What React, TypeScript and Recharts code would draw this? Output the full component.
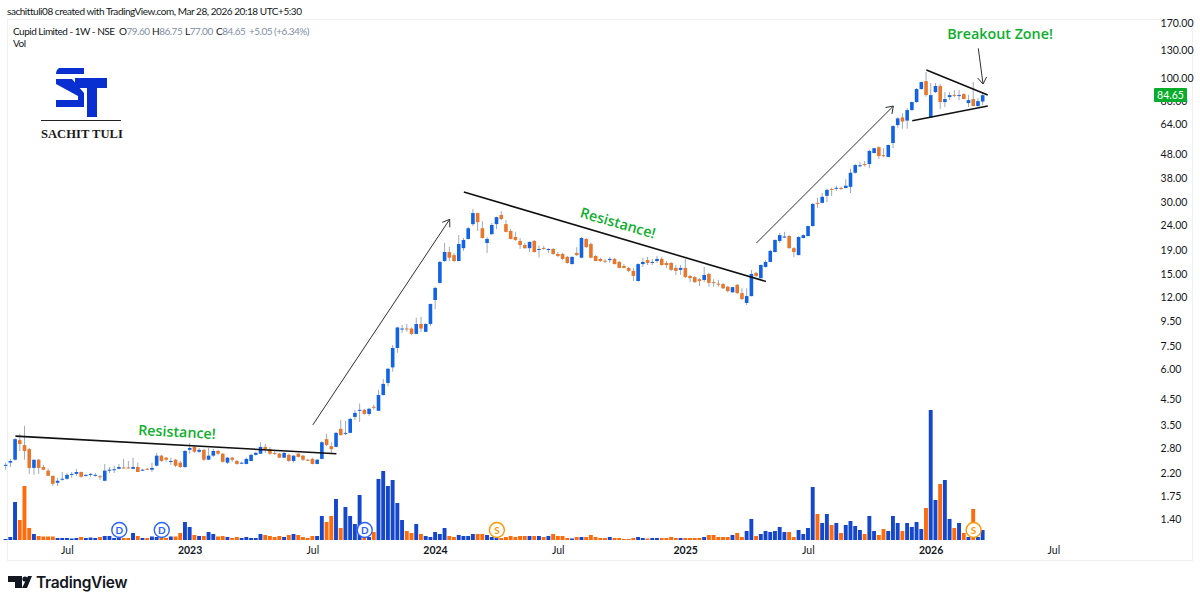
import { Bar, ComposedChart, ReferenceDot, ReferenceLine, XAxis, YAxis } from "recharts"

const opens = [
  2.38, 2.43, 2.5, 3.02, 2.88, 2.77, 2.31, 2.5, 2.33, 2.25,
  2.14, 2.0, 2.06, 2.08, 2.16, 2.18, 2.22, 2.14, 2.16, 2.14,
  2.13, 2.04, 2.26, 2.26, 2.29, 2.32, 2.32, 2.29, 2.33, 2.26,
  2.29, 2.27, 2.36, 2.6, 2.55, 2.46, 2.5, 2.43, 2.33, 2.75,
  2.83, 2.7, 2.75, 2.5, 2.6, 2.72, 2.65, 2.43, 2.55, 2.47,
  2.42, 2.4, 2.47, 2.62, 2.65, 2.83, 2.77, 2.67, 2.65, 2.55,
  2.62, 2.47, 2.65, 2.6, 2.5, 2.52, 2.4, 2.52, 3.05, 2.85,
  2.83, 3.37, 3.22, 3.24, 3.78, 4.03, 4.05, 3.89, 4.17, 4.01,
  4.67, 5.25, 6.1, 7.36, 8.8, 8.88, 8.88, 8.43, 9.28, 8.6,
  9.28, 11.7, 13.8, 17.05, 18.6, 18.05, 17.05, 19.3, 21.1, 24.35,
  27.1, 23.4, 20.3, 22.1, 24.35, 26.6, 24.35, 22.8, 21.5, 20.7,
  19.9, 19.3, 20.7, 19.0, 19.35, 19.1, 19.15, 18.25, 18.25, 17.75,
  16.55, 18.43, 17.6, 21.1, 20.1, 17.9, 17.4, 17.1, 17.2, 17.4,
  16.9, 16.25, 15.95, 15.5, 14.05, 16.55, 17.2, 16.85, 17.05, 17.4,
  16.73, 16.73, 15.95, 15.65, 15.95, 14.76, 14.6, 14.3, 14.2, 15.05,
  13.9, 13.7, 13.65, 13.3, 12.6, 13.55, 12.5, 11.37, 12.15, 15.2,
  14.45, 16.1, 16.9, 18.6, 20.7, 21.4, 21.7, 19.3, 18.05, 21.3,
  21.7, 23.9, 29.9, 29.9, 32, 34.2, 34.4, 34.5, 34.5, 34.9,
  40, 42.8, 43.5, 43.5, 48.4, 51.2, 47.4, 46.6, 53.3, 63.4,
  68.3, 66.2, 73.3, 79.2, 89.8, 97, 68.3, 87.2, 92.5, 79.2,
  83.1, 84.9, 83.9, 85.5, 78.4, 81.5, 76.2, 79.6,
]

const highs = [
  2.43, 2.52, 3.08, 3.21, 3.47, 2.8, 2.5, 2.52, 2.38, 2.29,
  2.14, 2.1, 2.22, 2.2, 2.22, 2.29, 2.23, 2.18, 2.2, 2.2,
  2.16, 2.4, 2.33, 2.36, 2.4, 2.52, 2.47, 2.55, 2.43, 2.29,
  2.31, 2.43, 2.67, 2.62, 2.57, 2.55, 2.52, 2.47, 2.75, 2.94,
  2.85, 2.8, 2.77, 2.8, 2.77, 2.75, 2.67, 2.57, 2.57, 2.5,
  2.45, 2.55, 2.65, 2.7, 2.96, 2.91, 2.83, 2.75, 2.67, 2.69,
  2.65, 2.62, 2.67, 2.62, 2.52, 2.55, 2.52, 2.99, 3.21, 2.96,
  3.27, 3.67, 3.64, 3.75, 4.05, 4.3, 4.09, 4.13, 4.25, 4.91,
  5.45, 6.08, 7.57, 9.05, 9.19, 9.28, 8.97, 9.85, 9.95, 9.37,
  11.3, 13.3, 17.05, 20.3, 19.55, 18.43, 21.9, 21.3, 23.7, 28.2,
  27.2, 25.05, 21.5, 24.6, 26.2, 27.6, 25.3, 23.2, 22.6, 21.3,
  20.3, 20.6, 20.9, 19.8, 19.75, 19.3, 19.35, 18.6, 18.43, 17.9,
  17.8, 19.5, 21.5, 21.3, 20.4, 18.05, 17.6, 17.4, 17.75, 17.6,
  17.05, 16.55, 16.1, 15.95, 16.7, 17.6, 17.75, 17.4, 17.9, 17.75,
  17.05, 16.9, 16.4, 16.4, 17.4, 14.9, 14.76, 14.45, 16.1, 15.2,
  14.3, 14.2, 13.8, 13.4, 13.3, 13.65, 13.1, 13.1, 15.65, 15.35,
  16.5, 17.2, 19, 21, 22.36, 22.6, 21.9, 19.5, 21.7, 22.1,
  24, 29.9, 31.4, 32.9, 34.3, 34.6, 35.3, 35, 37.6, 41.6,
  43.5, 44.4, 44.8, 49.8, 51, 51.7, 50.7, 52.5, 63.4, 68.5,
  71.1, 74.7, 79.6, 90.7, 96.5, 105.9, 95.2, 95.2, 94.3, 87.2,
  87.2, 88.9, 88.9, 86.4, 84.7, 96.1, 82.3, 86.75,
]

const lows = [
  2.27, 2.33, 2.48, 2.72, 2.5, 2.18, 2.16, 2.18, 2.26, 2.14,
  1.94, 1.94, 2.04, 2.06, 2.1, 2.14, 2.1, 2.12, 2.12, 2.12,
  2.06, 2.03, 2.2, 2.2, 2.28, 2.29, 2.29, 2.28, 2.22, 2.25,
  2.27, 2.22, 2.34, 2.45, 2.45, 2.38, 2.33, 2.31, 2.31, 2.65,
  2.67, 2.67, 2.47, 2.49, 2.57, 2.62, 2.43, 2.4, 2.45, 2.38,
  2.4, 2.39, 2.46, 2.6, 2.64, 2.67, 2.62, 2.62, 2.54, 2.54,
  2.45, 2.43, 2.55, 2.47, 2.47, 2.39, 2.39, 2.51, 2.85, 2.65,
  2.82, 3.16, 3.17, 3.23, 3.67, 3.6, 3.86, 3.82, 4.05, 4.0,
  4.65, 5.08, 5.85, 7.02, 8.51, 8.6, 8.34, 8.4, 8.6, 8.58,
  9.1, 10.7, 13.7, 16.9, 17.05, 16.9, 17.0, 18.8, 21.0, 23.9,
  22.8, 21.2, 18.43, 21.9, 23.2, 25.3, 22.5, 21.0, 20.7, 19.15,
  19.2, 18.6, 18.5, 17.6, 19.0, 18.4, 18.1, 17.7, 17.2, 16.6,
  16.5, 17.9, 17.5, 19.3, 17.5, 17.0, 16.9, 16.73, 16.73, 16.5,
  15.9, 15.9, 15.3, 14.05, 14.0, 16.1, 16.4, 16.4, 16.73, 16.3,
  15.95, 15.5, 14.9, 14.9, 14.45, 13.9, 13.8, 13.4, 13.9, 13.3,
  13.3, 13.3, 13.0, 12.6, 12.55, 12.4, 11.7, 11.15, 12.1, 14.6,
  14.4, 16.0, 16.85, 18.5, 20.3, 21.3, 19.2, 17.7, 18.0, 21.2,
  21.6, 23.8, 28.5, 29.8, 30.15, 32, 33.6, 33.9, 34.4, 32.9,
  39.6, 42.2, 42.5, 41.8, 48.2, 45.7, 46.5, 46.4, 50.7, 61.8,
  61.2, 61.2, 72.8, 78.6, 89.3, 83.5, 68, 86.4, 74, 75.5,
  80.7, 83.1, 80.7, 81.5, 75.5, 76, 75.7, 77,
]

const closes = [
  2.38, 2.47, 3.05, 2.91, 2.72, 2.31, 2.5, 2.31, 2.27, 2.14,
  1.98, 2.04, 2.08, 2.16, 2.18, 2.22, 2.12, 2.16, 2.18, 2.16,
  2.12, 2.25, 2.27, 2.28, 2.33, 2.31, 2.31, 2.33, 2.22, 2.27,
  2.28, 2.31, 2.6, 2.47, 2.5, 2.47, 2.36, 2.33, 2.72, 2.8,
  2.7, 2.75, 2.5, 2.6, 2.72, 2.65, 2.45, 2.55, 2.5, 2.4,
  2.43, 2.52, 2.62, 2.67, 2.83, 2.77, 2.65, 2.66, 2.55, 2.67,
  2.47, 2.6, 2.57, 2.5, 2.49, 2.4, 2.5, 2.96, 2.88, 2.77,
  3.24, 3.17, 3.24, 3.71, 3.93, 4.05, 3.89, 4.09, 4.15, 4.67,
  5.2, 6.02, 7.36, 8.97, 8.88, 8.8, 8.43, 9.28, 8.88, 9.28,
  11.26, 13.15, 16.9, 18.6, 17.6, 17.05, 20.1, 20.9, 23.4, 27.1,
  24.8, 21.3, 21.1, 24.15, 26.05, 25.6, 22.6, 21.1, 20.9, 19.9,
  19.3, 20.5, 18.6, 19.15, 19.3, 19.15, 18.25, 17.9, 17.4, 16.73,
  17.75, 18.05, 21.3, 19.5, 17.6, 17.05, 17.05, 17.05, 17.4, 16.55,
  15.95, 15.95, 15.5, 14.76, 16.55, 16.9, 16.73, 16.9, 17.4, 16.4,
  16.4, 15.65, 15.5, 15.95, 14.6, 14.45, 13.9, 14.05, 14.9, 13.8,
  13.8, 13.65, 13.1, 12.75, 13.25, 12.5, 11.8, 12.15, 15.05, 14.76,
  16.4, 16.9, 18.8, 20.9, 21.9, 21.6, 19.3, 18.6, 21.5, 21.9,
  23.9, 29.6, 29.7, 31.7, 33.9, 34.0, 34.6, 34.4, 35.3, 40,
  43.1, 43, 43.3, 49.4, 50.7, 47, 47.2, 52.3, 62.8, 67.6,
  65.6, 73.3, 79.2, 89.8, 96.1, 84.7, 84.7, 92.5, 79.2, 81.5,
  84.7, 84.5, 84.7, 81.5, 80.7, 76.2, 79.9, 84.65,
]

const volumes = [
  1, 3, 38, 20, 54, 12, 6, 4, 3.5, 3.5,
  3.5, 2, 2, 2, 1.5, 2, 3, 2, 2.5, 2,
  3, 4, 4, 2, 2, 2, 2, 7, 4, 2,
  2, 3.5, 3, 2, 2, 3.5, 3.5, 7, 18, 13,
  5, 4, 4, 8, 6, 3.5, 4, 3, 2, 3,
  2, 3, 2, 2, 6, 5, 4, 3, 4, 3,
  5, 6, 5, 3, 2, 4, 4, 24, 18, 24,
  41, 12, 33, 24, 16, 45, 3, 3, 8, 61,
  69, 54, 60, 37, 20, 9, 7, 16, 6, 4,
  3, 8, 6, 12, 4, 3, 5, 4, 4, 6,
  6, 6, 5, 3, 2, 2, 3, 4, 3, 4,
  4, 4, 4, 4, 3, 4, 6, 4, 4, 2,
  1.5, 3, 3, 3, 5, 3, 2, 2, 3, 2,
  2, 1, 1, 2, 3, 2, 1.5, 2, 2, 2,
  2, 3, 2, 2, 2, 2, 2, 2, 3, 5,
  5, 3, 3, 3, 5, 7, 3, 9, 21, 4,
  6, 9, 8, 9, 13, 8, 8, 3, 10, 6,
  12, 53, 26, 17, 26, 15, 17, 7, 15, 19,
  14, 10, 6, 24, 9, 5, 11, 9, 24, 17,
  9, 17, 13, 18, 11, 32, 130, 40, 56, 60,
  21, 12, 17, 7, 3, 31, 3, 10,
]

const priceTicks = [170, 130, 100, 80, 64, 48, 38, 30, 24, 19, 15, 12, 9.5, 7.5, 6, 4.5, 3.5, 2.8, 2.2, 1.75, 1.4]

// weekly bars plus the empty weeks to the right of the last candle
const totalWeeks = 243
const firstWeek = Date.UTC(2022, 3, 4)
const weeks = Array.from({ length: totalWeeks }, (_, i) =>
  new Date(firstWeek + i * 7 * 86400000).toISOString().slice(0, 10)
)

const timeTicks = ["2022-07-04", "2023-01-02", "2023-07-03", "2024-01-01", "2024-07-01", "2025-01-06", "2025-07-07", "2026-01-05", "2026-07-06"]
const timeLabels = ["Jul", "2023", "Jul", "2024", "Jul", "2025", "Jul", "2026", "Jul"]

const trendLines = [
  { from: 2, fromPrice: 3.14, to: 70, toPrice: 2.65 },
  { from: 97, fromPrice: 33.2, to: 161, toPrice: 14.0 },
  { from: 195, fromPrice: 108, to: 208, toPrice: 84.7 },
  { from: 192, fromPrice: 66.1, to: 208, toPrice: 76.2 },
]

const arrows = [
  { from: 65, fromPrice: 3.5, to: 94, toPrice: 25.5 },
  { from: 159, fromPrice: 20.3, to: 188, toPrice: 76.2 },
  { from: 206, fromPrice: 133, to: 207, toPrice: 94.3 },
]

const events = [
  { week: 24, letter: "D" },
  { week: 33, letter: "D" },
  { week: 76, letter: "D" },
  { week: 104, letter: "S" },
  { week: 205, letter: "S" },
]

const rows = weeks.map((week, i) => ({
  week,
  open: opens[i],
  high: highs[i],
  low: lows[i],
  close: closes[i],
  volume: volumes[i],
}))

const BLUE = "#1263e4"
const ORANGE = "#e8772c"
const WICK = "#9eaabd"
const GREEN = "#0cb02c"
const UI_FONT = "Lato, sans-serif"

function Candle(props: any) {
  const { x, y, width, height, payload } = props
  if (payload.open == null) return null
  const span = Math.log(payload.high) - Math.log(payload.low)
  const toY = (v: number) => y + (height * (Math.log(payload.high) - Math.log(v))) / span
  const top = toY(Math.max(payload.open, payload.close))
  const bottom = toY(Math.min(payload.open, payload.close))
  const cx = x + width / 2
  return (
    <g>
      <line x1={cx} x2={cx} y1={y} y2={y + height} stroke={WICK} strokeWidth={1} />
      <rect
        x={cx - 1.8}
        y={top}
        width={3.6}
        height={Math.max(bottom - top, 1)}
        fill={payload.close >= payload.open ? BLUE : ORANGE}
      />
    </g>
  )
}

function VolumeBar(props: any) {
  const { x, y, width, height, payload } = props
  if (payload.volume == null) return null
  return (
    <rect
      x={x}
      y={y}
      width={width}
      height={height}
      fill={payload.close >= payload.open ? "#1447cc" : "#ff6a0a"}
    />
  )
}

function ArrowLine(props: any) {
  const { x1, y1, x2, y2 } = props
  const angle = Math.atan2(y2 - y1, x2 - x1)
  const head = 8
  const a1 = angle + Math.PI - 0.6
  const a2 = angle + Math.PI + 0.6
  return (
    <g stroke="#2b2f38" strokeWidth={1} fill="none">
      <line x1={x1} y1={y1} x2={x2} y2={y2} />
      <polyline
        points={`${x2 + head * Math.cos(a1)},${y2 + head * Math.sin(a1)} ${x2},${y2} ${x2 + head * Math.cos(a2)},${y2 + head * Math.sin(a2)}`}
      />
    </g>
  )
}

function EventBadge(props: any) {
  const { cx, cy, letter } = props
  const color = letter === "D" ? "#2962ff" : "#ff9800"
  return (
    <g>
      <circle cx={cx} cy={cy} r={7.5} fill="#fff" stroke={color} strokeWidth={1.4} />
      <text x={cx} y={cy + 3.5} textAnchor="middle" fontSize={10} fontWeight={700} fontFamily={UI_FONT} fill={color}>
        {letter}
      </text>
    </g>
  )
}

function TimeTick(props: any) {
  const { x, y, payload } = props
  const label = timeLabels[timeTicks.indexOf(payload.value)]
  const isYear = label !== "Jul"
  return (
    <text x={x} y={y + 6} textAnchor="middle" fontSize={10.5} fontWeight={isYear ? 700 : 400} fontFamily={UI_FONT} fill="#131722">
      {label}
    </text>
  )
}

function Overlay() {
  const last = closes[closes.length - 1]
  const valueColor = "#7f8ea6"
  return (
    <svg width={1200} height={605} style={{ position: "absolute", left: 0, top: 0, pointerEvents: "none" }}>
      <text x={7} y={15} fontSize={10} letterSpacing={-0.45} fontFamily={UI_FONT} fill="#131722">
        sachittuli08 created with TradingView.com, Mar 28, 2026 20:18 UTC+5:30
      </text>

      <g fontSize={10} letterSpacing={-0.5} fontFamily={UI_FONT}>
        <text x={13} y={35} fill="#131722">Cupid Limited - 1W - NSE</text>
        <text x={119} y={35} fill="#131722">O<tspan fill={valueColor}>79.60</tspan></text>
        <text x={152} y={35} fill="#131722">H<tspan fill={valueColor}>86.75</tspan></text>
        <text x={185} y={35} fill="#131722">L<tspan fill={valueColor}>77.00</tspan></text>
        <text x={216} y={35} fill="#131722">C<tspan fill={valueColor}>84.65</tspan></text>
        <text x={249} y={35} fill={valueColor}>+5.05 (+6.34%)</text>
        <text x={13} y={47} fill="#131722">Vol</text>
      </g>

      <g fill="#0a2fd0">
        <path d="M59,68 H84 V74 H56 Q56,70 59,68 Z" />
        <path d="M56,79 H72 L84,93 V107 H56 V100 H78 V96 L56,84 Z" />
        <path d="M75,78 H107 V88 H97 V117 H87 V88 H75 Z" />
      </g>
      <line x1={41} x2={121} y1={120.5} y2={120.5} stroke="#222" strokeWidth={1} />
      <text x={41} y={138} fontSize={12.6} fontWeight={700} fontFamily="'Liberation Serif', serif" fill="#1b1b1b">
        SACHIT TULI
      </text>

      <g fill={GREEN} fontFamily="'Open Sans', sans-serif" fontWeight={600} fontSize={14.3}>
        <text x={177} y={437} textAnchor="middle" transform="rotate(3 177 432)">Resistance!</text>
        <text x={618} y={228} textAnchor="middle" transform="rotate(16 618 223)">Resistance!</text>
        <text x={1000} y={39} textAnchor="middle">Breakout Zone!</text>
      </g>

      <rect x={1154} y={88} width={33} height={14} fill="#0aad2b" rx={1} />
      <text x={1170.5} y={99} textAnchor="middle" fontSize={10.5} fontFamily={UI_FONT} fill="#fff">
        {last.toFixed(2)}
      </text>

      <g fill="#131722">
        <path d="M8,576 H22 V588 H15 V582 H8 Z" />
        <circle cx={25} cy={579} r={2.6} />
        <path d="M28,576 H32 L27,588 H22 Z" />
      </g>
      <text x={36} y={588} fontSize={15.5} fontWeight={600} letterSpacing={-0.3} fontFamily="Inter, sans-serif" fill="#131722">
        TradingView
      </text>
    </svg>
  )
}

export default function App() {
  return (
    <div style={{ position: "absolute", left: 0, top: 0, width: 1200, height: 605, background: "#fff", overflow: "hidden" }}>
      <div
        style={{
          position: "absolute",
          left: 7,
          top: 19,
          width: 1184,
          height: 540,
          border: "1px solid #eef0f4",
        }}
      />
      <div style={{ position: "absolute", left: 0, top: 0 }}>
        <ComposedChart
          width={1200}
          height={605}
          data={rows}
          margin={{ left: 3.64, right: 8, top: 20, bottom: 45 }}
          barCategoryGap={0}
        >
          <XAxis
            xAxisId="price"
            dataKey="week"
            ticks={timeTicks}
            interval={0}
            height={20}
            axisLine={false}
            tickLine={false}
            tick={TimeTick}
          />
          <XAxis xAxisId="vol" dataKey="week" hide />
          <YAxis
            yAxisId="price"
            orientation="right"
            width={41.4}
            scale="log"
            domain={[1.151, 175]}
            allowDataOverflow
            ticks={priceTicks}
            interval={0}
            axisLine={false}
            tickLine={false}
            tickSize={0}
            tickMargin={10}
            tickFormatter={(v: number) => v.toFixed(2)}
            tick={{ fontSize: 10.5, fill: "#131722", fontFamily: UI_FONT }}
          />
          <YAxis yAxisId="vol" hide domain={[0, 520]} allowDataOverflow />

          <Bar
            xAxisId="vol"
            yAxisId="vol"
            dataKey="volume"
            barSize={3.9}
            shape={VolumeBar}
            isAnimationActive={false}
          />
          <Bar
            xAxisId="price"
            yAxisId="price"
            dataKey={(d: any) => (d.low == null ? null : [d.low, d.high])}
            barSize={4}
            shape={Candle}
            isAnimationActive={false}
          />

          {trendLines.map((t) => (
            <ReferenceLine
              key={t.from}
              xAxisId="price"
              yAxisId="price"
              ifOverflow="visible"
              segment={[
                { x: weeks[t.from], y: t.fromPrice },
                { x: weeks[t.to], y: t.toPrice },
              ]}
              stroke="#111"
              strokeWidth={1.6}
            />
          ))}
          {arrows.map((a) => (
            <ReferenceLine
              key={a.from}
              xAxisId="price"
              yAxisId="price"
              ifOverflow="visible"
              segment={[
                { x: weeks[a.from], y: a.fromPrice },
                { x: weeks[a.to], y: a.toPrice },
              ]}
              shape={ArrowLine}
            />
          ))}
          {events.map((e) => (
            <ReferenceDot
              key={e.week}
              xAxisId="vol"
              yAxisId="vol"
              x={weeks[e.week]}
              y={10}
              ifOverflow="visible"
              shape={(p: any) => <EventBadge {...p} letter={e.letter} />}
            />
          ))}
        </ComposedChart>
      </div>
      <Overlay />
    </div>
  )
}
